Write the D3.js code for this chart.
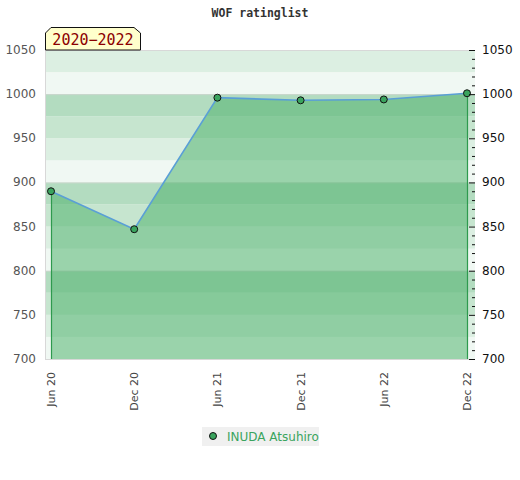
<!DOCTYPE html>
<html><head><meta charset="utf-8">
<script src="https://cdn.jsdelivr.net/npm/d3@7"></script>
<style>body{margin:0;background:#fff}svg{display:block}</style>
</head><body>
<svg id="c" width="520" height="480"></svg>
<script>
const categories = ["Jun 20","Dec 20","Jun 21","Dec 21","Jun 22","Dec 22"];
const ratings = [890, 847, 996, 993, 994, 1001];
const yTicks = [700,750,800,850,900,950,1000,1050];
const playerName = "INUDA Atsuhiro";
const periodLabel = "2020\u22122022";
const title = "WOF ratinglist";

const svg = d3.select("#c");
const L = 45, R = 475, T = 50, B = 359;
const y = d3.scaleLinear().domain([700,1050]).range([B,T]);
const x = d3.scalePoint().domain(categories).range([51,467]);

// background bands (25-unit stripes, 100-unit cycle)
const bandColors = {0:"#f0f8f3",25:"#dcefe2",50:"#c6e5cf",75:"#b3dcc0"};
const bands = d3.range(700,1050,25);
svg.append("g").selectAll("rect").data(bands).join("rect")
  .attr("x",L).attr("width",R-L)
  .attr("y",d=>y(d+25)).attr("height",d=>y(d)-y(d+25))
  .attr("fill",d=>bandColors[d%100]);

// grid lines every 100
svg.append("g").selectAll("line").data([800,900,1000]).join("line")
  .attr("x1",L).attr("x2",R).attr("y1",d=>y(d)+0.5).attr("y2",d=>y(d)+0.5)
  .attr("stroke","#c9d6cc").attr("stroke-width",1);

// frame
svg.append("line").attr("x1",L).attr("x2",R).attr("y1",T+0.5).attr("y2",T+0.5).attr("stroke","#d8d8d8");
svg.append("line").attr("x1",L+0.5).attr("x2",L+0.5).attr("y1",T).attr("y2",B).attr("stroke","#d8d8d8");
svg.append("line").attr("x1",L).attr("x2",R).attr("y1",B+0.5).attr("y2",B+0.5).attr("stroke","#d8d8d8");

// area
const area = d3.area().x((d,i)=>x(categories[i])).y0(B).y1(d=>y(d));
svg.append("path").datum(ratings).attr("d",area)
  .attr("fill","rgba(74,177,105,0.52)");
// vertical edges
[0, ratings.length-1].forEach(i=>{
  svg.append("line").attr("x1",x(categories[i])+0.5).attr("x2",x(categories[i])+0.5)
    .attr("y1",y(ratings[i])).attr("y2",B).attr("stroke","#2e9a4e").attr("stroke-width",1.2);
});
// line
const line = d3.line().x((d,i)=>x(categories[i])).y(d=>y(d));
svg.append("path").datum(ratings).attr("d",line)
  .attr("fill","none").attr("stroke","#5a9fd6").attr("stroke-width",1.6);
// points
svg.append("g").selectAll("circle").data(ratings).join("circle")
  .attr("cx",(d,i)=>x(categories[i])).attr("cy",d=>y(d)).attr("r",3.5)
  .attr("fill","#3aa45e").attr("stroke","#111").attr("stroke-width",1);

// left axis labels
svg.append("g").selectAll("text").data(yTicks).join("text")
  .attr("x",36).attr("y",d=>y(d)+4).attr("text-anchor","end")
  .attr("font-family","DejaVu Sans").attr("font-size",12).attr("fill","#555")
  .text(d=>d);
// right axis
const minor = d3.range(700,1051,10);
svg.append("g").selectAll("line").data(minor).join("line")
  .attr("x1",d=>d%50===0?469:472).attr("x2",475)
  .attr("y1",d=>y(d)+0.5).attr("y2",d=>y(d)+0.5).attr("stroke","#111");
svg.append("g").selectAll("text").data(yTicks).join("text")
  .attr("x",482).attr("y",d=>y(d)+4).attr("text-anchor","start")
  .attr("font-family","DejaVu Sans").attr("font-size",12).attr("fill","#111")
  .text(d=>d);

// x labels
svg.append("g").selectAll("text").data(categories).join("text")
  .attr("transform",d=>`translate(${x(d)+4},372) rotate(-90)`)
  .attr("text-anchor","end")
  .attr("font-family","DejaVu Sans").attr("font-size",11).attr("fill","#444")
  .text(d=>d);

// title
svg.append("text").attr("x",260).attr("y",17).attr("text-anchor","middle")
  .attr("font-family","DejaVu Sans Mono").attr("font-weight","bold").attr("font-size",11.5)
  .attr("fill","#333").text(title);

// period box
const bx=45, by=27, bw=95, bh=23;
svg.append("path").attr("d",`M${bx+0.5},${by+bh} L${bx+0.5},${by+6} L${bx+6},${by+0.5} L${bx+bw-6},${by+0.5} L${bx+bw+0.5},${by+6} L${bx+bw+0.5},${by+bh}Z`)
  .attr("fill","#ffffcc").attr("stroke","#111").attr("stroke-width",1);
svg.append("text").attr("x",bx+bw/2+0.5).attr("y",by+18).attr("text-anchor","middle")
  .attr("font-family","DejaVu Sans Mono").attr("font-size",15).attr("fill","#8b0000")
  .text(periodLabel);

// legend
svg.append("rect").attr("x",202).attr("y",427).attr("width",117).attr("height",19).attr("fill","#f0f0f0");
svg.append("circle").attr("cx",213).attr("cy",436).attr("r",3.5).attr("fill","#3aa45e").attr("stroke","#111");
svg.append("text").attr("x",227).attr("y",440.5).attr("font-family","DejaVu Sans").attr("font-size",12)
  .attr("fill","#3aa45e").text(playerName);
</script>
</body></html>
